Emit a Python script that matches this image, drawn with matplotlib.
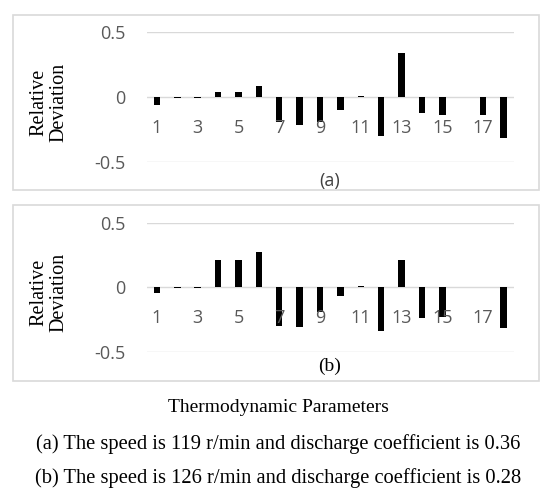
import numpy as np
import matplotlib
matplotlib.use("Agg")
import matplotlib.pyplot as plt
from matplotlib.patches import Rectangle

# relative deviation of the 18 thermodynamic parameters
params = np.arange(1, 19)
dev_a = [-0.06, -0.004, -0.004, 0.04, 0.04, 0.085, -0.19, -0.21, -0.19, -0.10,
         0.01, -0.295, 0.34, -0.125, -0.14, 0.0, -0.135, -0.315]
dev_b = [-0.045, -0.004, -0.004, 0.21, 0.21, 0.27, -0.30, -0.305, -0.19, -0.07,
         0.01, -0.34, 0.21, -0.24, -0.23, 0.0, 0.0, -0.32]
shown_ticks = [1, 3, 5, 7, 9, 11, 13, 15, 17]
ytick_vals = [-0.5, 0, 0.5]
ytick_text = ["-0.5", "0", "0.5"]

W, H = 557, 503
GRID = "#d9d9d9"
TICK = "#595959"
SANS = ["Open Sans", "DejaVu Sans"]
SERIF = ["Liberation Serif", "DejaVu Serif"]

fig = plt.figure(figsize=(W / 100, H / 100), dpi=100)


def fx(x):
    return x / W


def fy(y):
    return 1 - y / H


def panel(vals, top, bottom, box, label, label_y, label_font, ylab_y):
    # outer light-grey frame (Excel chart area)
    x0, y0, x1, y1 = box
    fig.patches.append(Rectangle((fx(x0), fy(y1)), fx(x1) - fx(x0), fy(y0) - fy(y1),
                                 transform=fig.transFigure, fill=False,
                                 ec=GRID, lw=1.2))
    ax = fig.add_axes([fx(146.7), fy(bottom), fx(513.7) - fx(146.7), fy(top) - fy(bottom)])
    for v in ytick_vals:
        ax.axhline(v, color=GRID, lw=1.0, zorder=1)
    ax.bar(params, vals, width=0.32, color="black", zorder=2)
    ax.set_xlim(0.5, 18.5)
    ax.set_ylim(-0.5, 0.5)
    for s in ax.spines.values():
        s.set_visible(False)
    ax.set_xticks([])
    ax.set_yticks(ytick_vals)
    ax.set_yticklabels(ytick_text, family=SANS, fontsize=13, color=TICK)
    ax.tick_params(axis="y", length=0, pad=15)
    for p in shown_ticks:
        ax.annotate(str(p), (p, 0), xytext=(0, -22), textcoords="offset points",
                    ha="center", va="center", fontsize=13, family=SANS,
                    color=TICK, zorder=3)
    fig.text(fx(49), fy(ylab_y), "Relative\nDeviation", rotation=90,
             ha="center", va="center", family=SERIF, fontsize=14.5,
             linespacing=1.1)
    if label_font == "sans":
        fig.text(fx(330), fy(label_y), label, ha="center", va="center",
                 family=SANS, fontsize=13, color="#404040")
    else:
        fig.text(fx(330), fy(label_y), label, ha="center", va="center",
                 family=SERIF, fontsize=14)
    return ax


panel(dev_a, 32, 162.3, (12.7, 15, 539.3, 190), "(a)", 181, "sans", 102)
panel(dev_b, 222.7, 351.7, (12.7, 205, 539.3, 381), "(b)", 366, "serif", 292)

fig.text(fx(278), fy(408), "Thermodynamic Parameters", ha="center", va="center",
         family=SERIF, fontsize=14)
fig.text(fx(278), fy(444), "(a) The speed is 119 r/min and discharge coefficient is 0.36",
         ha="center", va="center", family=SERIF, fontsize=14.8)
fig.text(fx(278), fy(478), "(b) The speed is 126 r/min and discharge coefficient is 0.28",
         ha="center", va="center", family=SERIF, fontsize=14.8)

fig.savefig("out.png", dpi=100, facecolor="white")
